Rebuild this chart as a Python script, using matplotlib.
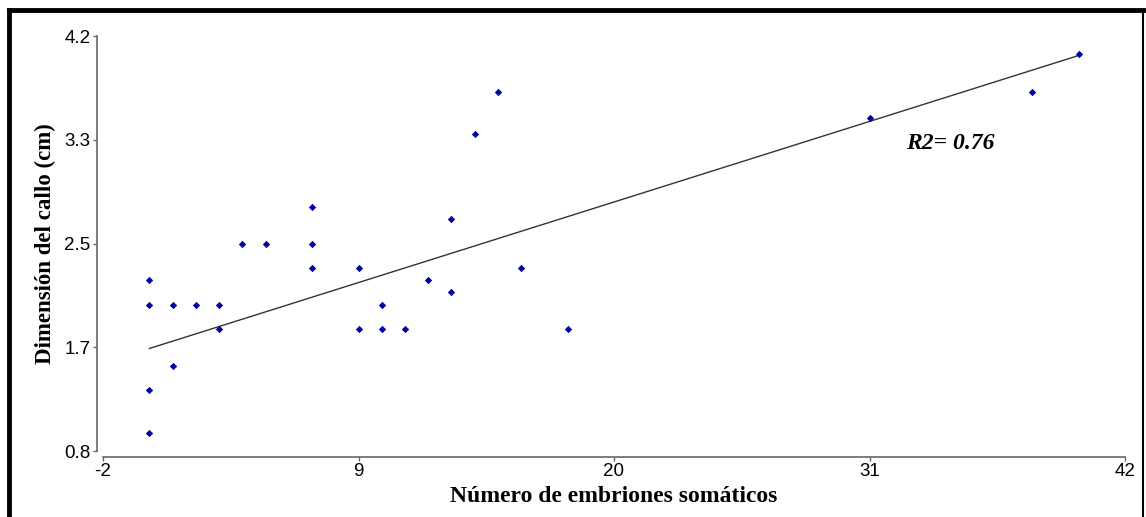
import numpy as np
import matplotlib
matplotlib.use("Agg")
import matplotlib.pyplot as plt
from matplotlib.lines import Line2D

plt.rcParams['axes.unicode_minus'] = False

# Embriones vs dimension del callo
embriones = [0, 0, 0, 0, 1, 1, 2, 3, 3, 4, 5, 7, 7, 7, 9, 9, 10, 10, 11,
             12, 13, 13, 14, 15, 16, 18, 31, 38, 40]
callo = [2.2, 2.0, 1.3, 0.95, 2.0, 1.5, 2.0, 2.0, 1.8, 2.5, 2.5, 2.8, 2.5, 2.3,
         2.3, 1.8, 2.0, 1.8, 1.8, 2.2, 2.7, 2.1, 3.4, 3.74, 2.3, 1.8, 3.53, 3.74, 4.05]

# linea de tendencia
tendencia_x = [0, 40]
tendencia_y = [1.64, 4.04]

xticks = [-2, 9, 20, 31, 42]
yticks = [0.8, 1.65, 2.5, 3.35, 4.2]
ylabels = ["0.8", "1.7", "2.5", "3.3", "4.2"]

fig = plt.figure(figsize=(11.46, 5.17), dpi=100)
ax = fig.add_axes([103/1146, 66/517, 1022/1146, 415/517])

ax.scatter(embriones, callo, s=14, marker='D', color='#0000a8', zorder=3, linewidths=0)
ax.plot(tendencia_x, tendencia_y, color='#333333', linewidth=1, zorder=2)

ax.set_xlim(-2, 42)
ax.set_ylim(0.8, 4.2)
ax.set_xticks(xticks)
ax.set_yticks(yticks)
ax.set_yticklabels(ylabels)

for s in ['top', 'right']:
    ax.spines[s].set_visible(False)
for s in ['left', 'bottom']:
    ax.spines[s].set_position(('outward', 4))
    ax.spines[s].set_color('#666666')
    ax.spines[s].set_linewidth(1.2)
ax.tick_params(length=3, width=1, color='#666666', labelsize=13.5, pad=2,
               labelfontfamily='Liberation Sans')

serif = 'Liberation Serif'
ax.set_xlabel('Número de embriones somáticos', fontsize=17, fontweight='bold', family=serif, labelpad=4)
ax.set_ylabel('Dimensión del callo (cm)', fontsize=16.5, fontweight='bold', family=serif, labelpad=6)

ax.text(0.829, 0.742, 'R2= 0.76', transform=ax.transAxes, fontsize=17, fontweight='bold',
        style='italic', family=serif, ha='center', va='center')

# marco exterior
W, H = 1146, 517
fig.add_artist(Line2D([9/W, 1143/W], [1 - 10/H, 1 - 10/H], transform=fig.transFigure, color='black', linewidth=3.5))
fig.add_artist(Line2D([9/W, 9/W], [0, 1 - 10/H], transform=fig.transFigure, color='black', linewidth=3.5))
fig.add_artist(Line2D([1143/W, 1143/W], [0, 1 - 10/H], transform=fig.transFigure, color='black', linewidth=1.5))

fig.savefig('out.png', dpi=100)
